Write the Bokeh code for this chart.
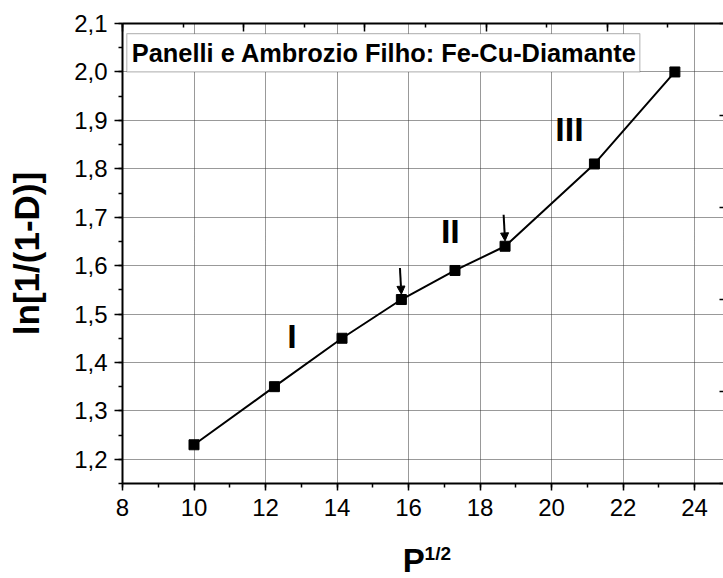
import numpy as np
from bokeh.plotting import figure
from bokeh.layouts import column
from bokeh.models import (Range1d, LinearAxis, SingleIntervalTicker, CustomJSTickFormatter,
                          Label, BoxAnnotation, Arrow, NormalHead, Grid, ColumnDataSource)
from bokeh.embed import file_html
from bokeh.resources import INLINE
from bokeh.core.properties import value

# ---- data ----
sqrt_p = [10.0, 12.25, 14.14, 15.8, 17.3, 18.7, 21.2, 23.45]
ln_d = [1.23, 1.35, 1.45, 1.53, 1.59, 1.64, 1.81, 2.00]

arrow_x = [15.8, 18.7]
arrow_tail_y = [1.595, 1.705]
arrow_tip_y = [1.541, 1.651]

region_names = ["I", "II", "III"]
region_x = [12.74, 17.17, 20.5]
region_y = [1.455, 1.672, 1.883]

title_text = "Panelli e Ambrozio Filho: Fe-Cu-Diamante"
y_title = "ln[1/(1-D)]"
x_title_main = "P"
x_title_sup = "1/2"

FONT = "Liberation Sans"

MAIN_H = 530
p = figure(width=723, height=MAIN_H, x_range=Range1d(8, 24.81), y_range=Range1d(1.15, 2.1001),
           output_backend="svg", toolbar_location=None,
           x_axis_type=None, y_axis_type=None,
           min_border_left=122, min_border_right=0, min_border_top=23, min_border_bottom=MAIN_H - 483)
p.outline_line_color = None
p.background_fill_color = "white"
p.border_fill_color = "white"

p.extra_x_ranges = {"top": Range1d(0, 601 / 121.2)}
p.extra_y_ranges = {"right": Range1d(0, 5)}

xt = SingleIntervalTicker(interval=2, num_minor_ticks=2)
yt = SingleIntervalTicker(interval=0.1, num_minor_ticks=2)

p.add_layout(Grid(dimension=0, ticker=xt, grid_line_color="#333333", grid_line_dash="1 1", grid_line_width=1))
p.add_layout(Grid(dimension=1, ticker=yt, grid_line_color="#333333", grid_line_dash="1 1", grid_line_width=1))

def style(ax):
    ax.axis_line_color = "black"
    ax.axis_line_width = 2
    ax.major_tick_line_color = "black"
    ax.minor_tick_line_color = "black"
    ax.major_tick_line_width = 1.5
    ax.minor_tick_line_width = 1.5
    ax.major_label_text_color = "black"
    ax.major_label_text_font = FONT
    ax.major_label_text_font_size = "24px"

xb = LinearAxis(ticker=xt, formatter=CustomJSTickFormatter(code="return tick.toFixed(0);"))
style(xb)
xb.major_tick_out = 7; xb.major_tick_in = 0
xb.minor_tick_out = 4; xb.minor_tick_in = 0
xb.major_label_standoff = 8
p.add_layout(xb, "below")

yl = LinearAxis(ticker=yt, formatter=CustomJSTickFormatter(code="return tick.toFixed(1).replace('.', ',');"))
style(yl)
yl.major_tick_out = 8; yl.major_tick_in = 0
yl.minor_tick_out = 4; yl.minor_tick_in = 0
yl.major_label_standoff = 7
yl.axis_label = y_title
yl.axis_label_text_font = FONT
yl.axis_label_text_font_style = "bold"
yl.axis_label_text_font_size = "35px"
yl.axis_label_text_color = "black"
yl.axis_label_standoff = 25
p.add_layout(yl, "left")

xtop = LinearAxis(x_range_name="top", ticker=SingleIntervalTicker(interval=1, num_minor_ticks=2),
                  formatter=CustomJSTickFormatter(code="return '';"))
style(xtop)
xtop.major_tick_out = 0; xtop.major_tick_in = 8
xtop.minor_tick_out = 0; xtop.minor_tick_in = 4
xtop.major_label_standoff = 0
xtop.major_label_text_font_size = "0px"
p.add_layout(xtop, "above")

yr = LinearAxis(y_range_name="right", ticker=SingleIntervalTicker(interval=1, num_minor_ticks=2),
                formatter=CustomJSTickFormatter(code="return '';"))
style(yr)
yr.axis_line_color = None
yr.major_tick_out = 0; yr.major_tick_in = 4
yr.minor_tick_out = 0; yr.minor_tick_in = 0
yr.major_label_standoff = 0
yr.major_label_text_font_size = "0px"
p.add_layout(yr, "right")

# data
p.line(sqrt_p, ln_d, line_color="black", line_width=2)
p.scatter(sqrt_p, ln_d, marker="square", size=10, fill_color="black", line_color="black")

arr_src = ColumnDataSource(dict(x0=[x - 0.04 for x in arrow_x], y0=arrow_tail_y, x1=arrow_x, y1=arrow_tip_y))
p.add_layout(Arrow(source=arr_src, x_start="x0", y_start="y0", x_end="x1", y_end="y1",
                   line_color="black", line_width=2,
                   end=NormalHead(size=8, fill_color="black", line_color="black")))

p.text(region_x, region_y, text=region_names, text_font=value(FONT), text_font_style="bold",
       text_font_size="34px", text_align="center", text_baseline="middle", text_color="black")

# title box
p.add_layout(BoxAnnotation(left=8.12, right=22.47, bottom=2.0, top=2.079,
                           fill_color="white", fill_alpha=1.0, line_color="#222222", line_width=1.2))
p.add_layout(Label(x=8.26, y=2.04, text=title_text, text_font=FONT, text_font_style="bold",
                   text_font_size="25.4px", text_baseline="middle", text_align="left", text_color="black"))

# strip below the main plot carrying the x axis title P^(1/2)
STRIP_H = 578 - MAIN_H
p2 = figure(width=723, height=STRIP_H, x_range=p.x_range, y_range=Range1d(0, STRIP_H),
            output_backend="svg", toolbar_location=None, x_axis_type=None, y_axis_type=None,
            min_border_left=122, min_border_right=0, min_border_top=0, min_border_bottom=0)
p2.outline_line_color = None
p2.background_fill_color = "white"
p2.border_fill_color = "white"
p2.text([15.84], [18], text=[x_title_main], text_font=value(FONT), text_font_style="bold",
        text_font_size="33px", text_align="left", text_baseline="alphabetic", text_color="black")
p2.text([16.45], [25], text=[x_title_sup], text_font=value(FONT), text_font_style="bold",
        text_font_size="19px", text_align="left", text_baseline="alphabetic", text_color="black")

layout = column(p, p2, spacing=0)
open("out.html", "w").write(file_html(layout, INLINE))
